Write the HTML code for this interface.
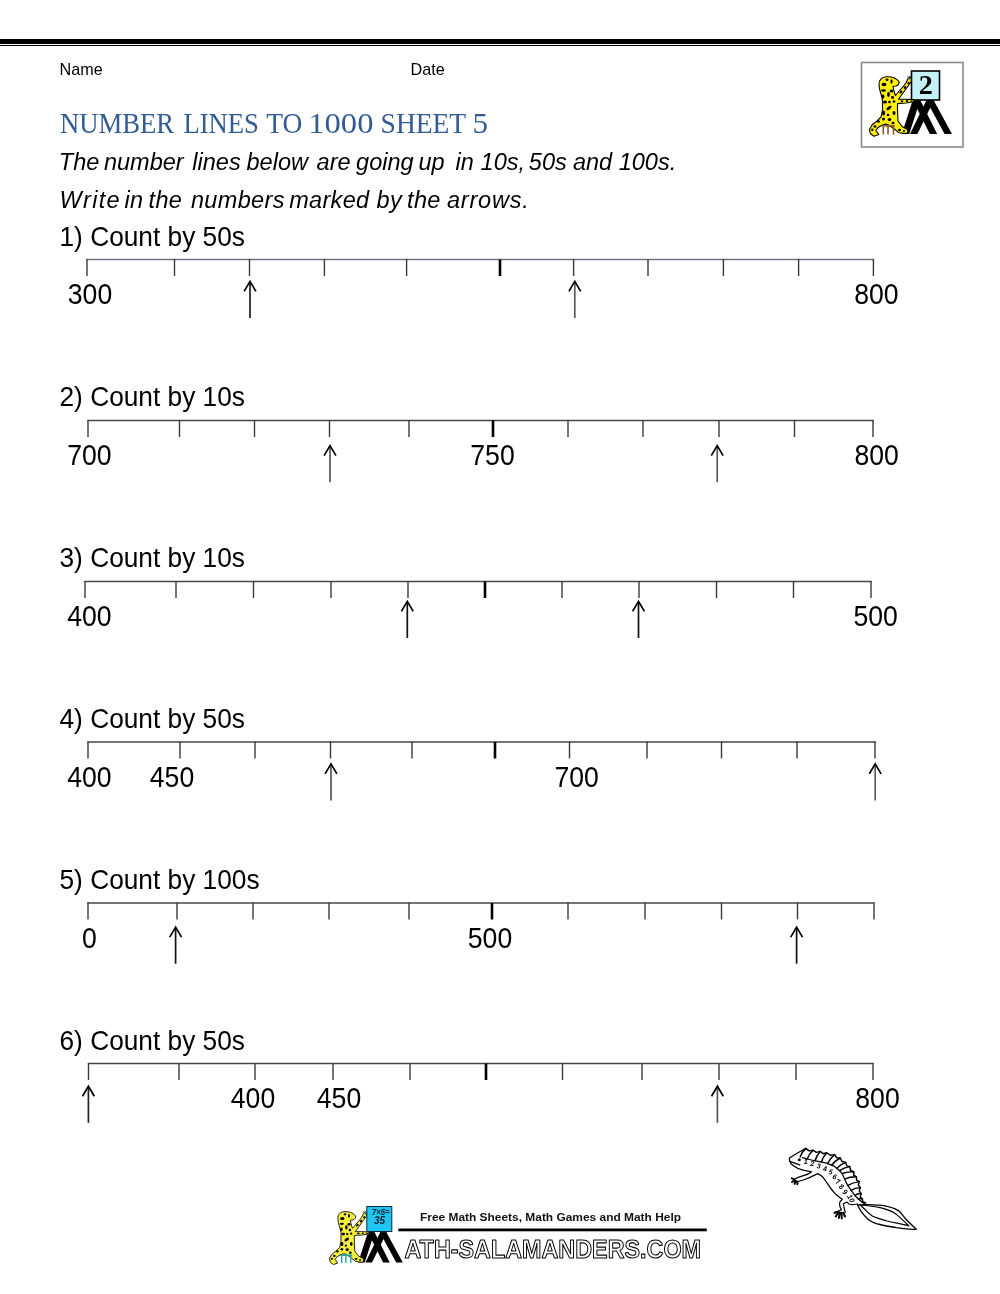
<!DOCTYPE html>
<html><head><meta charset="utf-8"><title>Number Lines to 1000 Sheet 5</title>
<style>
html,body{margin:0;padding:0;background:#fff;}
body{width:1000px;height:1294px;position:relative;overflow:hidden;font-family:"Liberation Sans",Arial,sans-serif;color:#000;}
#rule1{position:absolute;left:0;top:39px;width:1000px;height:4.7px;background:#000;}
#rule2{position:absolute;left:0;top:44.9px;width:1000px;height:1.1px;background:#000;}
svg{position:absolute;left:0;top:0;}
.sans{font-family:"Liberation Sans",Arial,sans-serif;}
.serif{font-family:"Liberation Serif","Times New Roman",serif;}
.it{font-style:italic;}
</style></head>
<body>
<div id="rule1"></div><div id="rule2"></div>
<svg width="1000" height="1294" viewBox="0 0 1000 1294">
<line x1="86.4" y1="259.5" x2="874.0" y2="259.5" stroke="#707482" stroke-width="1.6"/>
<line x1="87" y1="258.9" x2="87" y2="276.0" stroke="#3a3a3a" stroke-width="1.4"/>
<line x1="174.5" y1="258.9" x2="174.5" y2="276.0" stroke="#3a3a3a" stroke-width="1.4"/>
<line x1="249.5" y1="258.9" x2="249.5" y2="276.0" stroke="#3a3a3a" stroke-width="1.4"/>
<line x1="324.4" y1="258.9" x2="324.4" y2="276.0" stroke="#3a3a3a" stroke-width="1.4"/>
<line x1="406.6" y1="258.9" x2="406.6" y2="276.0" stroke="#3a3a3a" stroke-width="1.4"/>
<line x1="500" y1="259.5" x2="500" y2="276.0" stroke="#000" stroke-width="2.6"/>
<line x1="573.6" y1="258.9" x2="573.6" y2="276.0" stroke="#3a3a3a" stroke-width="1.4"/>
<line x1="648" y1="258.9" x2="648" y2="276.0" stroke="#3a3a3a" stroke-width="1.4"/>
<line x1="723.4" y1="258.9" x2="723.4" y2="276.0" stroke="#3a3a3a" stroke-width="1.4"/>
<line x1="798.6" y1="258.9" x2="798.6" y2="276.0" stroke="#3a3a3a" stroke-width="1.4"/>
<line x1="873.4" y1="258.9" x2="873.4" y2="276.0" stroke="#3a3a3a" stroke-width="1.4"/>
<path d="M250 282.5V318" fill="none" stroke="#1c1c1c" stroke-width="1.7"/>
<path d="M244.1 291.4L250 281.4L255.9 291.4" fill="none" stroke="#000" stroke-width="1.7"/>
<path d="M574.8 282.5V318" fill="none" stroke="#5a5a5a" stroke-width="1.7"/>
<path d="M568.9 291.4L574.8 281.4L580.6999999999999 291.4" fill="none" stroke="#000" stroke-width="1.7"/>
<text transform="translate(90 304.3) scale(1.0 1.08)" font-size="26.6" text-anchor="middle" class="sans">300</text>
<text transform="translate(876.4 304.3) scale(1.0 1.08)" font-size="26.6" text-anchor="middle" class="sans">800</text>
<text transform="translate(59.5 245.6) scale(1.011 1.065)" font-size="26" class="sans">1) Count by 50s</text>
<line x1="87.4" y1="420.5" x2="873.6" y2="420.5" stroke="#474747" stroke-width="1.3"/>
<line x1="88" y1="419.9" x2="88" y2="437.0" stroke="#3a3a3a" stroke-width="1.4"/>
<line x1="179.5" y1="419.9" x2="179.5" y2="437.0" stroke="#3a3a3a" stroke-width="1.4"/>
<line x1="254.5" y1="419.9" x2="254.5" y2="437.0" stroke="#3a3a3a" stroke-width="1.4"/>
<line x1="329.5" y1="419.9" x2="329.5" y2="437.0" stroke="#3a3a3a" stroke-width="1.4"/>
<line x1="409" y1="419.9" x2="409" y2="437.0" stroke="#3a3a3a" stroke-width="1.4"/>
<line x1="493" y1="420.5" x2="493" y2="437.0" stroke="#000" stroke-width="2.6"/>
<line x1="568" y1="419.9" x2="568" y2="437.0" stroke="#3a3a3a" stroke-width="1.4"/>
<line x1="643" y1="419.9" x2="643" y2="437.0" stroke="#3a3a3a" stroke-width="1.4"/>
<line x1="719" y1="419.9" x2="719" y2="437.0" stroke="#3a3a3a" stroke-width="1.4"/>
<line x1="794.5" y1="419.9" x2="794.5" y2="437.0" stroke="#3a3a3a" stroke-width="1.4"/>
<line x1="873" y1="419.9" x2="873" y2="437.0" stroke="#3a3a3a" stroke-width="1.4"/>
<path d="M330 446.7V482.2" fill="none" stroke="#555" stroke-width="1.7"/>
<path d="M324.1 455.59999999999997L330 445.59999999999997L335.9 455.59999999999997" fill="none" stroke="#000" stroke-width="1.7"/>
<path d="M717.2 446.7V482.2" fill="none" stroke="#5a5a5a" stroke-width="1.7"/>
<path d="M711.3000000000001 455.59999999999997L717.2 445.59999999999997L723.1 455.59999999999997" fill="none" stroke="#000" stroke-width="1.7"/>
<text transform="translate(89.4 465.1) scale(1.0 1.08)" font-size="26.6" text-anchor="middle" class="sans">700</text>
<text transform="translate(492.5 465.1) scale(1.0 1.08)" font-size="26.6" text-anchor="middle" class="sans">750</text>
<text transform="translate(876.7 465.1) scale(1.0 1.08)" font-size="26.6" text-anchor="middle" class="sans">800</text>
<text transform="translate(59.5 406.4) scale(1.011 1.065)" font-size="26" class="sans">2) Count by 10s</text>
<line x1="84.4" y1="581.5" x2="871.6" y2="581.5" stroke="#474747" stroke-width="1.3"/>
<line x1="85" y1="580.9" x2="85" y2="598.0" stroke="#3a3a3a" stroke-width="1.4"/>
<line x1="176" y1="580.9" x2="176" y2="598.0" stroke="#3a3a3a" stroke-width="1.4"/>
<line x1="253.5" y1="580.9" x2="253.5" y2="598.0" stroke="#3a3a3a" stroke-width="1.4"/>
<line x1="331" y1="580.9" x2="331" y2="598.0" stroke="#3a3a3a" stroke-width="1.4"/>
<line x1="408" y1="580.9" x2="408" y2="598.0" stroke="#3a3a3a" stroke-width="1.4"/>
<line x1="485" y1="581.5" x2="485" y2="598.0" stroke="#000" stroke-width="2.6"/>
<line x1="562" y1="580.9" x2="562" y2="598.0" stroke="#3a3a3a" stroke-width="1.4"/>
<line x1="639" y1="580.9" x2="639" y2="598.0" stroke="#3a3a3a" stroke-width="1.4"/>
<line x1="716.5" y1="580.9" x2="716.5" y2="598.0" stroke="#3a3a3a" stroke-width="1.4"/>
<line x1="793.5" y1="580.9" x2="793.5" y2="598.0" stroke="#3a3a3a" stroke-width="1.4"/>
<line x1="871" y1="580.9" x2="871" y2="598.0" stroke="#3a3a3a" stroke-width="1.4"/>
<path d="M407.3 602.5V638" fill="none" stroke="#111" stroke-width="1.7"/>
<path d="M401.40000000000003 611.4L407.3 601.4L413.2 611.4" fill="none" stroke="#000" stroke-width="1.7"/>
<path d="M638.5 602.5V638" fill="none" stroke="#111" stroke-width="1.7"/>
<path d="M632.6 611.4L638.5 601.4L644.4 611.4" fill="none" stroke="#000" stroke-width="1.7"/>
<text transform="translate(89.4 625.9) scale(1.0 1.08)" font-size="26.6" text-anchor="middle" class="sans">400</text>
<text transform="translate(875.7 625.9) scale(1.0 1.08)" font-size="26.6" text-anchor="middle" class="sans">500</text>
<text transform="translate(59.5 567.2) scale(1.011 1.065)" font-size="26" class="sans">3) Count by 10s</text>
<line x1="87.4" y1="742" x2="875.6" y2="742" stroke="#474747" stroke-width="1.3"/>
<line x1="88" y1="741.4" x2="88" y2="758.5" stroke="#3a3a3a" stroke-width="1.4"/>
<line x1="180" y1="741.4" x2="180" y2="758.5" stroke="#3a3a3a" stroke-width="1.4"/>
<line x1="255" y1="741.4" x2="255" y2="758.5" stroke="#3a3a3a" stroke-width="1.4"/>
<line x1="330.5" y1="741.4" x2="330.5" y2="758.5" stroke="#3a3a3a" stroke-width="1.4"/>
<line x1="412" y1="741.4" x2="412" y2="758.5" stroke="#3a3a3a" stroke-width="1.4"/>
<line x1="495" y1="742" x2="495" y2="758.5" stroke="#000" stroke-width="2.6"/>
<line x1="569.5" y1="741.4" x2="569.5" y2="758.5" stroke="#3a3a3a" stroke-width="1.4"/>
<line x1="647" y1="741.4" x2="647" y2="758.5" stroke="#3a3a3a" stroke-width="1.4"/>
<line x1="721.5" y1="741.4" x2="721.5" y2="758.5" stroke="#3a3a3a" stroke-width="1.4"/>
<line x1="797" y1="741.4" x2="797" y2="758.5" stroke="#3a3a3a" stroke-width="1.4"/>
<line x1="875" y1="741.4" x2="875" y2="758.5" stroke="#3a3a3a" stroke-width="1.4"/>
<path d="M331 765.0V800.5" fill="none" stroke="#555" stroke-width="1.7"/>
<path d="M325.1 773.9L331 763.9L336.9 773.9" fill="none" stroke="#000" stroke-width="1.7"/>
<path d="M875.2 765.0V800.5" fill="none" stroke="#5a5a5a" stroke-width="1.7"/>
<path d="M869.3000000000001 773.9L875.2 763.9L881.1 773.9" fill="none" stroke="#000" stroke-width="1.7"/>
<text transform="translate(89.4 786.7) scale(1.0 1.08)" font-size="26.6" text-anchor="middle" class="sans">400</text>
<text transform="translate(172 786.7) scale(1.0 1.08)" font-size="26.6" text-anchor="middle" class="sans">450</text>
<text transform="translate(576.7 786.7) scale(1.0 1.08)" font-size="26.6" text-anchor="middle" class="sans">700</text>
<text transform="translate(59.5 728.0) scale(1.011 1.065)" font-size="26" class="sans">4) Count by 50s</text>
<line x1="87.4" y1="903" x2="874.6" y2="903" stroke="#474747" stroke-width="1.3"/>
<line x1="88" y1="902.4" x2="88" y2="919.5" stroke="#3a3a3a" stroke-width="1.4"/>
<line x1="177" y1="902.4" x2="177" y2="919.5" stroke="#3a3a3a" stroke-width="1.4"/>
<line x1="253" y1="902.4" x2="253" y2="919.5" stroke="#3a3a3a" stroke-width="1.4"/>
<line x1="329" y1="902.4" x2="329" y2="919.5" stroke="#3a3a3a" stroke-width="1.4"/>
<line x1="409" y1="902.4" x2="409" y2="919.5" stroke="#3a3a3a" stroke-width="1.4"/>
<line x1="492" y1="903" x2="492" y2="919.5" stroke="#000" stroke-width="2.6"/>
<line x1="568" y1="902.4" x2="568" y2="919.5" stroke="#3a3a3a" stroke-width="1.4"/>
<line x1="645" y1="902.4" x2="645" y2="919.5" stroke="#3a3a3a" stroke-width="1.4"/>
<line x1="721.5" y1="902.4" x2="721.5" y2="919.5" stroke="#3a3a3a" stroke-width="1.4"/>
<line x1="797.5" y1="902.4" x2="797.5" y2="919.5" stroke="#3a3a3a" stroke-width="1.4"/>
<line x1="874" y1="902.4" x2="874" y2="919.5" stroke="#3a3a3a" stroke-width="1.4"/>
<path d="M175.6 928.2V963.7" fill="none" stroke="#111" stroke-width="1.7"/>
<path d="M169.7 937.1L175.6 927.1L181.5 937.1" fill="none" stroke="#000" stroke-width="1.7"/>
<path d="M796.6 928.2V963.7" fill="none" stroke="#111" stroke-width="1.7"/>
<path d="M790.7 937.1L796.6 927.1L802.5 937.1" fill="none" stroke="#000" stroke-width="1.7"/>
<text transform="translate(89.4 947.5) scale(1.0 1.08)" font-size="26.6" text-anchor="middle" class="sans">0</text>
<text transform="translate(490 947.5) scale(1.0 1.08)" font-size="26.6" text-anchor="middle" class="sans">500</text>
<text transform="translate(59.5 888.8) scale(1.011 1.065)" font-size="26" class="sans">5) Count by 100s</text>
<line x1="87.9" y1="1063.5" x2="873.6" y2="1063.5" stroke="#474747" stroke-width="1.3"/>
<line x1="88.5" y1="1062.9" x2="88.5" y2="1080.0" stroke="#3a3a3a" stroke-width="1.4"/>
<line x1="179" y1="1062.9" x2="179" y2="1080.0" stroke="#3a3a3a" stroke-width="1.4"/>
<line x1="255" y1="1062.9" x2="255" y2="1080.0" stroke="#3a3a3a" stroke-width="1.4"/>
<line x1="333" y1="1062.9" x2="333" y2="1080.0" stroke="#3a3a3a" stroke-width="1.4"/>
<line x1="410" y1="1062.9" x2="410" y2="1080.0" stroke="#3a3a3a" stroke-width="1.4"/>
<line x1="486" y1="1063.5" x2="486" y2="1080.0" stroke="#000" stroke-width="2.6"/>
<line x1="562.5" y1="1062.9" x2="562.5" y2="1080.0" stroke="#3a3a3a" stroke-width="1.4"/>
<line x1="642" y1="1062.9" x2="642" y2="1080.0" stroke="#3a3a3a" stroke-width="1.4"/>
<line x1="719" y1="1062.9" x2="719" y2="1080.0" stroke="#3a3a3a" stroke-width="1.4"/>
<line x1="796" y1="1062.9" x2="796" y2="1080.0" stroke="#3a3a3a" stroke-width="1.4"/>
<line x1="873" y1="1062.9" x2="873" y2="1080.0" stroke="#3a3a3a" stroke-width="1.4"/>
<path d="M88.4 1087.3V1122.8" fill="none" stroke="#222" stroke-width="1.7"/>
<path d="M82.5 1096.2L88.4 1086.2L94.30000000000001 1096.2" fill="none" stroke="#000" stroke-width="1.7"/>
<path d="M717.4 1087.3V1122.8" fill="none" stroke="#555" stroke-width="1.7"/>
<path d="M711.5 1096.2L717.4 1086.2L723.3 1096.2" fill="none" stroke="#000" stroke-width="1.7"/>
<text transform="translate(253 1108.3) scale(1.0 1.08)" font-size="26.6" text-anchor="middle" class="sans">400</text>
<text transform="translate(339 1108.3) scale(1.0 1.08)" font-size="26.6" text-anchor="middle" class="sans">450</text>
<text transform="translate(877.5 1108.3) scale(1.0 1.08)" font-size="26.6" text-anchor="middle" class="sans">800</text>
<text transform="translate(59.5 1049.6) scale(1.011 1.065)" font-size="26" class="sans">6) Count by 50s</text>
<text transform="translate(59.5 74.8) scale(1 1)" font-size="16.2" class="sans">Name</text>
<text transform="translate(410.5 74.8) scale(1 1)" font-size="16.2" class="sans">Date</text>
<g fill="#325C96" class="serif">
<text transform="translate(60.0 132.7) scale(0.94 1.04)" font-size="28.4" class="serif">NUMBER</text>
<text transform="translate(183.5 132.7) scale(0.937 1.04)" font-size="28.4" class="serif">LINES</text>
<text transform="translate(266.3 132.7) scale(0.97 1.04)" font-size="28.4" class="serif">TO</text>
<text transform="translate(308.2 132.7) scale(1.15 1.04)" font-size="28.4" class="serif">1000</text>
<text transform="translate(380.6 132.7) scale(0.969 1.04)" font-size="28.4" class="serif">SHEET</text>
<text transform="translate(472.6 132.7) scale(1.1 1.04)" font-size="28.4" class="serif">5</text>
</g>
<text x="58.8" y="169.7" font-size="23.5" class="sans it">The <tspan dx="-1.9">number</tspan> <tspan dx="2.2">lines</tspan> <tspan dx="-0.7">below</tspan> <tspan dx="2.1">are</tspan> <tspan dx="-1.0">going</tspan> <tspan dx="-1.6">up</tspan> <tspan dx="4.3">in</tspan> <tspan dx="0.3">10s,</tspan> <tspan dx="-2.7">50s</tspan> <tspan dx="-0.3">and</tspan> 100s.</text>
<text x="59.5" y="207.6" font-size="23.5" class="sans it" letter-spacing="0.34"><tspan letter-spacing="1.34">Write</tspan> <tspan dx="-3.4">in</tspan> <tspan dx="-1.8">the</tspan> <tspan dx="1.8">numbers</tspan> <tspan dx="-2.5">marked</tspan> <tspan dx="0.1">by</tspan> <tspan dx="-1.8">the</tspan> <tspan dx="-0.7" letter-spacing="0.8">arrows.</tspan></text>
<rect x="861.5" y="62.5" width="101.5" height="84.5" fill="#fff" stroke="#8a8a8a" stroke-width="1.6"/>
<polygon points="912.8,100 920.2,100 909.2,134 901.8,134" fill="#000"/>
<polygon points="912.8,100 920.2,100 937.2,134 929.8,134" fill="#000"/>
<polygon points="926.5999999999999,100 934.0,100 917.4000000000001,134 910.0,134" fill="#000"/>
<polygon points="926.0999999999999,100 933.5,100 952.0,134 944.5999999999999,134" fill="#000"/>
<rect x="911.5" y="71" width="28" height="29" fill="#c4f2f8" stroke="#000" stroke-width="1.6"/>
<text transform="translate(925.7 93.6) scale(1.05 1)" font-size="26.8" text-anchor="middle" class="serif" font-weight="bold">2</text>
<path d="M879,84.5 C879,80 881,77.5 886,76.8 C891,76.3 896,78 899,81.5 C899.5,83.5 898,85.5 896,86 L893,86.5 C893.5,89 894,91 894.5,93 L895.5,95.5 L906,83 L907.5,79.5 L909.5,76.8 L911.5,78 L911,82 L898.5,99.3 L906,99.2 L913.5,99.6 L914.2,101.8 L906,103 L897.5,103.6 L897.5,110 L898,121 L902,126.5 L907.5,129.5 L908,132.5 L906,133.6 L899,132.8 L895,129.5 L889.5,125.5 L886,124 L882.5,125 L878,127.5 L875.8,130.5 L877.2,132.2 L878.8,134.6 L874,136.2 L870.5,133.8 L869.4,129.5 L872,125 L877,121 L881,117 L882.5,110 L882.5,100 L881,94 L879.5,89 Z" fill="#ffee00" stroke="#000" stroke-width="1.1" stroke-linejoin="round"/>
<ellipse cx="887" cy="79.8" rx="1.5" ry="1.2" fill="#000"/>
<ellipse cx="891.5" cy="81.5" rx="1.1" ry="2.2" fill="#000"/>
<ellipse cx="884" cy="84.5" rx="2.4" ry="1.7" fill="#000"/>
<ellipse cx="883.5" cy="90.5" rx="2.4" ry="1.3" fill="#000"/>
<ellipse cx="891.5" cy="91" rx="1.8" ry="1.5" fill="#000"/>
<ellipse cx="888.5" cy="94.5" rx="1.4" ry="2.4" fill="#000"/>
<ellipse cx="892.5" cy="97.5" rx="1.5" ry="1.4" fill="#000"/>
<ellipse cx="883" cy="96.5" rx="1.4" ry="2" fill="#000"/>
<ellipse cx="901" cy="92" rx="1.8" ry="1.1" fill="#000" transform="rotate(-50 901 92)"/>
<ellipse cx="905" cy="87.5" rx="1.6" ry="1.1" fill="#000" transform="rotate(-50 905 87.5)"/>
<ellipse cx="908.5" cy="83" rx="1.2" ry="1" fill="#000" transform="rotate(-50 908.5 83)"/>
<ellipse cx="902" cy="101.2" rx="1.4" ry="1" fill="#000"/>
<ellipse cx="907" cy="101" rx="1.3" ry="0.9" fill="#000"/>
<ellipse cx="911.5" cy="101" rx="1" ry="0.8" fill="#000"/>
<ellipse cx="885" cy="102" rx="2" ry="1.5" fill="#000"/>
<ellipse cx="889.5" cy="102" rx="1.4" ry="1.3" fill="#000"/>
<ellipse cx="894" cy="101.5" rx="1.3" ry="1.2" fill="#000"/>
<ellipse cx="889" cy="108" rx="3" ry="1.5" fill="#000" transform="rotate(-35 889 108)"/>
<ellipse cx="894" cy="113" rx="1.5" ry="2" fill="#000"/>
<ellipse cx="888" cy="115" rx="1.3" ry="1.3" fill="#000"/>
<ellipse cx="883.6" cy="113" rx="1.5" ry="2.5" fill="#000"/>
<ellipse cx="883.5" cy="119" rx="1.5" ry="1.5" fill="#000"/>
<ellipse cx="889.5" cy="119.5" rx="1.8" ry="1.5" fill="#000"/>
<ellipse cx="893" cy="123" rx="1.5" ry="1.3" fill="#000"/>
<ellipse cx="878.5" cy="121.5" rx="1.5" ry="1.3" fill="#000"/>
<ellipse cx="875" cy="126.5" rx="1.5" ry="1.2" fill="#000"/>
<ellipse cx="872.3" cy="129.8" rx="1.2" ry="1.2" fill="#000"/>
<ellipse cx="899.5" cy="130" rx="1.5" ry="1.2" fill="#000"/>
<ellipse cx="904" cy="131" rx="1.1" ry="0.9" fill="#000"/>
<path d="M882,125.8 H895 M883.3,126 V134.5 M888,126 V134.5 M893.5,126 V134.5" stroke="#8a5a1e" stroke-width="1.6" fill="none"/>
<path d="M907.5,76.5 L910.5,79.5" stroke="#555" stroke-width="1.2"/>
<g transform="translate(-444.44 1143.31) scale(0.89)">
<polygon points="912.8,100 920.2,100 909.2,134 901.8,134" fill="#000"/>
<polygon points="912.8,100 920.2,100 937.2,134 929.8,134" fill="#000"/>
<polygon points="926.5999999999999,100 934.0,100 917.4000000000001,134 910.0,134" fill="#000"/>
<polygon points="926.0999999999999,100 933.5,100 952.0,134 944.5999999999999,134" fill="#000"/>
<path d="M879,84.5 C879,80 881,77.5 886,76.8 C891,76.3 896,78 899,81.5 C899.5,83.5 898,85.5 896,86 L893,86.5 C893.5,89 894,91 894.5,93 L895.5,95.5 L906,83 L907.5,79.5 L909.5,76.8 L911.5,78 L911,82 L898.5,99.3 L906,99.2 L913.5,99.6 L914.2,101.8 L906,103 L897.5,103.6 L897.5,110 L898,121 L902,126.5 L907.5,129.5 L908,132.5 L906,133.6 L899,132.8 L895,129.5 L889.5,125.5 L886,124 L882.5,125 L878,127.5 L875.8,130.5 L877.2,132.2 L878.8,134.6 L874,136.2 L870.5,133.8 L869.4,129.5 L872,125 L877,121 L881,117 L882.5,110 L882.5,100 L881,94 L879.5,89 Z" fill="#f6ee3c" stroke="#222" stroke-width="1.1" stroke-linejoin="round"/>
<ellipse cx="887" cy="79.8" rx="1.5" ry="1.2" fill="#000"/>
<ellipse cx="891.5" cy="81.5" rx="1.1" ry="2.2" fill="#000"/>
<ellipse cx="884" cy="84.5" rx="2.4" ry="1.7" fill="#000"/>
<ellipse cx="883.5" cy="90.5" rx="2.4" ry="1.3" fill="#000"/>
<ellipse cx="891.5" cy="91" rx="1.8" ry="1.5" fill="#000"/>
<ellipse cx="888.5" cy="94.5" rx="1.4" ry="2.4" fill="#000"/>
<ellipse cx="892.5" cy="97.5" rx="1.5" ry="1.4" fill="#000"/>
<ellipse cx="883" cy="96.5" rx="1.4" ry="2" fill="#000"/>
<ellipse cx="901" cy="92" rx="1.8" ry="1.1" fill="#000" transform="rotate(-50 901 92)"/>
<ellipse cx="905" cy="87.5" rx="1.6" ry="1.1" fill="#000" transform="rotate(-50 905 87.5)"/>
<ellipse cx="908.5" cy="83" rx="1.2" ry="1" fill="#000" transform="rotate(-50 908.5 83)"/>
<ellipse cx="902" cy="101.2" rx="1.4" ry="1" fill="#000"/>
<ellipse cx="907" cy="101" rx="1.3" ry="0.9" fill="#000"/>
<ellipse cx="911.5" cy="101" rx="1" ry="0.8" fill="#000"/>
<ellipse cx="885" cy="102" rx="2" ry="1.5" fill="#000"/>
<ellipse cx="889.5" cy="102" rx="1.4" ry="1.3" fill="#000"/>
<ellipse cx="894" cy="101.5" rx="1.3" ry="1.2" fill="#000"/>
<ellipse cx="889" cy="108" rx="3" ry="1.5" fill="#000" transform="rotate(-35 889 108)"/>
<ellipse cx="894" cy="113" rx="1.5" ry="2" fill="#000"/>
<ellipse cx="888" cy="115" rx="1.3" ry="1.3" fill="#000"/>
<ellipse cx="883.6" cy="113" rx="1.5" ry="2.5" fill="#000"/>
<ellipse cx="883.5" cy="119" rx="1.5" ry="1.5" fill="#000"/>
<ellipse cx="889.5" cy="119.5" rx="1.8" ry="1.5" fill="#000"/>
<ellipse cx="893" cy="123" rx="1.5" ry="1.3" fill="#000"/>
<ellipse cx="878.5" cy="121.5" rx="1.5" ry="1.3" fill="#000"/>
<ellipse cx="875" cy="126.5" rx="1.5" ry="1.2" fill="#000"/>
<ellipse cx="872.3" cy="129.8" rx="1.2" ry="1.2" fill="#000"/>
<ellipse cx="899.5" cy="130" rx="1.5" ry="1.2" fill="#000"/>
<ellipse cx="904" cy="131" rx="1.1" ry="0.9" fill="#000"/>
<path d="M882,125.8 H895 M883.3,126 V134.5 M888,126 V134.5 M893.5,126 V134.5" stroke="#2aa6a0" stroke-width="1.6" fill="none"/>
<path d="M907.5,76.5 L910.5,79.5" stroke="#555" stroke-width="1.2"/>
</g>
<rect x="366.8" y="1206.5" width="25" height="25" fill="#20c6f2" stroke="#0a2a3a" stroke-width="1"/>
<text transform="translate(380.8 1214.5) scale(0.92 1)" font-size="8.4" text-anchor="middle" class="sans it" font-weight="bold" fill="#10202c">7×5=</text>
<text transform="translate(379.6 1223.9) scale(0.95 1.05)" font-size="10.5" text-anchor="middle" class="sans it" font-weight="bold" fill="#10202c">35</text>
<rect x="398.3" y="1228.5" width="308.5" height="2.8" fill="#000"/>
<text x="420" y="1221" font-size="11.2" class="sans" font-weight="bold" fill="#111" textLength="261" lengthAdjust="spacingAndGlyphs">Free Math Sheets, Math Games and Math Help</text>
<text x="404.5" y="1257.5" font-size="26.5" class="sans" font-weight="bold" fill="#fff" stroke="#000" stroke-width="1.1" stroke-linejoin="round" textLength="296.5" lengthAdjust="spacingAndGlyphs">ATH-SALAMANDERS.COM</text>
<path d="M857.5,1205 C862,1204.4 872,1204.6 882.2,1205.4 C889,1206.5 894,1208 898.4,1210.6 C901,1213 903,1216 906,1219.2 C909,1222.5 913,1226 916.4,1229.2 C910,1229.6 904,1228.8 896.5,1227.7 C890,1226.5 883,1225.5 877.5,1224 C873,1222.5 870,1221 868,1219.2 C865,1216.5 863,1214 861.3,1211.6 C860,1209.5 858.5,1207 857.5,1205 Z" fill="#fff" stroke="#000" stroke-width="1.3" stroke-linejoin="round"/>
<path d="M860.4,1205 C865,1205.2 873,1206.2 881.3,1207.8 C888,1209.5 893,1211.5 896.5,1214.4 C900,1217.5 904.5,1221.5 908.8,1225.8 C901,1224 894,1222.6 887,1221 C882,1219.6 877,1218.2 872.7,1216.3 C869,1214 866.5,1211 864.2,1208.7 C862.5,1207.2 861.3,1206 860.4,1205 Z" fill="none" stroke="#000" stroke-width="1.25" stroke-linecap="round" stroke-linejoin="round"/>
<path d="M805.5,1148.5 C800,1151.5 794,1155 789.4,1158 C789,1161 791,1164 793,1165.6 C796,1168 800,1169.6 804,1170.4 C807,1171 810,1171.4 811.6,1171.8 C809,1174 806,1175 804.2,1175.4 C801,1176.3 799,1177 797,1177.8 L794.5,1179.5 M797.8,1181.5 C800.5,1180.8 803.5,1180 806,1179 C810,1177.5 814,1175.5 817.8,1173.6 C821,1175 823.5,1177.6 825,1180 C828,1184 830,1188 833,1191.2 C835,1194 838,1196.5 842.3,1199.3 C840.8,1200.5 839.5,1202 839.5,1203.5 C839.5,1205.5 840.3,1208 841.4,1209.7 L837.6,1211.6 M845.2,1212.5 C844.8,1210.5 844.4,1209 844.2,1207.8 C843.8,1206.2 843.5,1205 843.3,1204 C844.5,1203 845.8,1202.3 847.1,1202.1 C847.8,1202.8 848.4,1203.6 849,1204 C850.5,1204.5 852,1204.6 853.7,1204.5 L857.5,1204" fill="none" stroke="#000" stroke-width="1.25" stroke-linecap="round" stroke-linejoin="round"/>
<path d="M790.6,1161.6 C794,1163 797,1164 799.8,1164.8" fill="none" stroke="#000" stroke-width="1.25" stroke-linecap="round" stroke-linejoin="round"/>
<circle cx="799.3" cy="1159.8" r="1.5" fill="#000"/>
<path d="M794.5,1179.5 L791.8,1178.3 M794.5,1180.2 L792,1182 M795.8,1181 L794.5,1183.8 M797.5,1181.5 L797.3,1184.2 M837.6,1211.6 L834.5,1212.8 M838.3,1212.2 L835.8,1216.5 M839.8,1212.6 L838.8,1218 M841.5,1212.8 L841.8,1218.4 M843.5,1212.8 L845,1216.5" stroke="#000" stroke-width="2" stroke-linecap="round"/>
<path d="M802.6,1157.6 L811.4,1160 L819.4,1161.6 L826.6,1163.2 L834.6,1166.4 L839.4,1170.4 L842.6,1174.4 L845,1180 L847.4,1184.8 L850.6,1189.6 L854.6,1195.2 L858.6,1199.2 L862.6,1202.4 L865,1204" fill="none" stroke="#000" stroke-width="1.25" stroke-linecap="round" stroke-linejoin="round"/>
<polyline points="805.8,1148.4 809.01,1150.85 813,1150.2 816.34,1152.38 820.2,1151.4 823.17,1153.67 826.8,1152.8 830.34,1155.26 834.6,1154.6 836.57,1157.67 840.2,1158 842.01,1161.46 845.8,1162.4 846.64,1165.6 849.8,1166.6 850.51,1170.25 853.8,1172 853.69,1175.16 856.4,1176.8 856.54,1180.05 859.4,1181.6 858.32,1184.86 860.4,1187.6 859.21,1190.81 861.2,1193.6 860.24,1196.65 862.4,1199 862.71,1201.91 865.5,1202.8" fill="none" stroke="#000" stroke-width="1.45" stroke-linecap="round" stroke-linejoin="round"/>
<path d="M805.8,1148.4 Q801.63,1152.30 800.16,1156.93" fill="none" stroke="#000" stroke-width="1.45" stroke-linecap="round" stroke-linejoin="round"/>
<path d="M813,1150.2 Q808.81,1154.17 807.31,1158.89" fill="none" stroke="#000" stroke-width="1.45" stroke-linecap="round" stroke-linejoin="round"/>
<path d="M820.2,1151.4 Q816.26,1155.79 815.07,1160.73" fill="none" stroke="#000" stroke-width="1.45" stroke-linecap="round" stroke-linejoin="round"/>
<path d="M826.8,1152.8 Q822.77,1157.13 821.46,1162.06" fill="none" stroke="#000" stroke-width="1.45" stroke-linecap="round" stroke-linejoin="round"/>
<path d="M834.6,1154.6 Q829.78,1158.57 827.56,1163.58" fill="none" stroke="#000" stroke-width="1.45" stroke-linecap="round" stroke-linejoin="round"/>
<path d="M840.2,1158 Q834.61,1161.09 831.63,1165.21" fill="none" stroke="#000" stroke-width="1.45" stroke-linecap="round" stroke-linejoin="round"/>
<path d="M845.8,1162.4 Q840.22,1164.41 836.78,1168.22" fill="none" stroke="#000" stroke-width="1.45" stroke-linecap="round" stroke-linejoin="round"/>
<path d="M849.8,1166.6 Q843.83,1167.54 839.61,1170.66" fill="none" stroke="#000" stroke-width="1.45" stroke-linecap="round" stroke-linejoin="round"/>
<path d="M853.8,1172 Q847.45,1171.46 842.21,1173.49" fill="none" stroke="#000" stroke-width="1.45" stroke-linecap="round" stroke-linejoin="round"/>
<path d="M856.4,1176.8 Q849.86,1176.72 844.57,1179.14" fill="none" stroke="#000" stroke-width="1.45" stroke-linecap="round" stroke-linejoin="round"/>
<path d="M859.4,1181.6 Q852.84,1182.37 847.84,1185.46" fill="none" stroke="#000" stroke-width="1.45" stroke-linecap="round" stroke-linejoin="round"/>
<path d="M860.4,1187.6 Q854.94,1187.81 851.10,1190.31" fill="none" stroke="#000" stroke-width="1.45" stroke-linecap="round" stroke-linejoin="round"/>
<path d="M861.2,1193.6 Q857.03,1193.53 854.84,1195.44" fill="none" stroke="#000" stroke-width="1.45" stroke-linecap="round" stroke-linejoin="round"/>
<path d="M862.4,1199 Q859.27,1198.11 858.32,1198.98" fill="none" stroke="#000" stroke-width="1.45" stroke-linecap="round" stroke-linejoin="round"/>
<path d="M865.5,1202.8 Q862.65,1201.67 862.13,1202.09" fill="none" stroke="#000" stroke-width="1.45" stroke-linecap="round" stroke-linejoin="round"/>
<text transform="translate(805.8 1161.8) rotate(0)" y="2.5" font-size="7.2" class="sans it" text-anchor="middle" font-weight="bold">1</text>
<text transform="translate(812.2 1163.8) rotate(0)" y="2.5" font-size="7.2" class="sans it" text-anchor="middle" font-weight="bold">2</text>
<text transform="translate(818.6 1165.8) rotate(4)" y="2.5" font-size="7.2" class="sans it" text-anchor="middle" font-weight="bold">3</text>
<text transform="translate(825 1168.6) rotate(6)" y="2.5" font-size="7.2" class="sans it" text-anchor="middle" font-weight="bold">4</text>
<text transform="translate(830.6 1172) rotate(10)" y="2.5" font-size="7.2" class="sans it" text-anchor="middle" font-weight="bold">5</text>
<text transform="translate(834.6 1176.8) rotate(14)" y="2.5" font-size="7.2" class="sans it" text-anchor="middle" font-weight="bold">6</text>
<text transform="translate(838 1181.6) rotate(20)" y="2.5" font-size="7.2" class="sans it" text-anchor="middle" font-weight="bold">7</text>
<text transform="translate(841.6 1186.6) rotate(30)" y="2.5" font-size="7.2" class="sans it" text-anchor="middle" font-weight="bold">8</text>
<text transform="translate(845.2 1192) rotate(36)" y="2.5" font-size="7.2" class="sans it" text-anchor="middle" font-weight="bold">9</text>
<text transform="translate(851 1198.4) rotate(60)" y="2.5" font-size="7.2" class="sans it" text-anchor="middle" font-weight="bold">10</text>
</svg>
</body></html>
